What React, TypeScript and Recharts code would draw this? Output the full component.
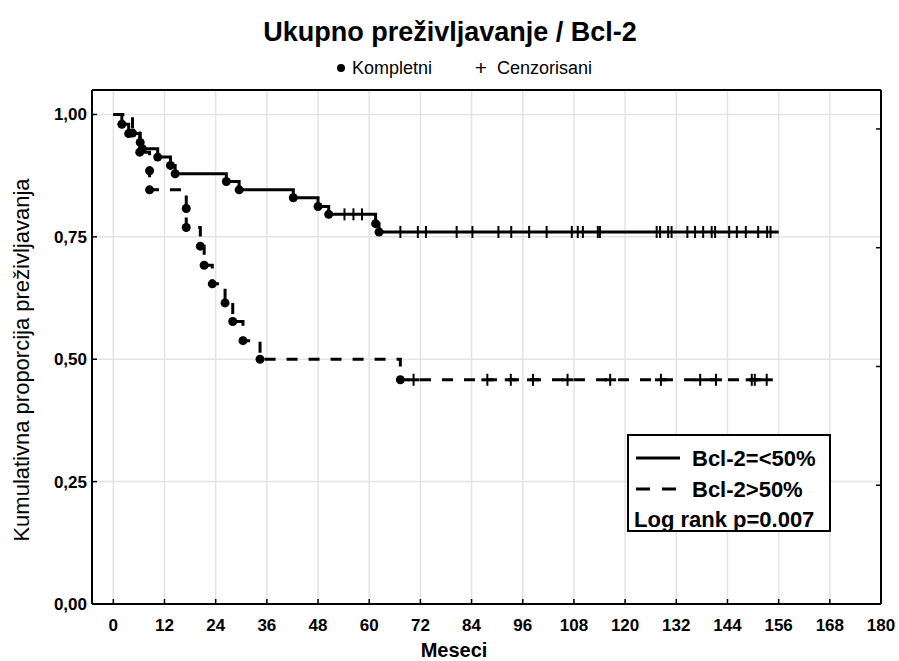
import React from 'react';
import { ComposedChart, Line, XAxis, YAxis, CartesianGrid } from 'recharts';

// ---- data ----
const xTicks = [0, 12, 24, 36, 48, 60, 72, 84, 96, 108, 120, 132, 144, 156, 168, 180];
const topTicks = [0, 20, 40, 60, 80, 100, 120, 140, 160];
const yTicks = [0, 0.25, 0.5, 0.75, 1];
const yTickLabels = ['0,00', '0,25', '0,50', '0,75', '1,00'];

// Bcl-2=<50% (solid)
const lowEventTimes = [2.0, 3.6, 6.3, 6.8, 10.4, 13.4, 14.5, 26.5, 29.5, 42.2, 48.0, 50.5, 61.5, 62.3];
const lowEventSurv = [0.980, 0.961, 0.943, 0.930, 0.913, 0.896, 0.879, 0.863, 0.846, 0.830, 0.812, 0.796, 0.777, 0.760];
const lowCensorTimes = [54.2, 56.3, 58.3, 67.3, 71.4, 73.3, 80.5, 84.2, 90.3, 93.3, 97.5, 101.6, 107.5, 108.9, 110.1, 113.6, 114.1, 127.4, 128.2, 130.1, 130.9, 134.6, 136.4, 138.3, 140.3, 141.1, 144.4, 146.2, 148.3, 151.2, 153.3, 154.1];
const lowEndTime = 156;

// Bcl-2>50% (dashed)
const highEventTimes = [4.5, 6.2, 8.5, 8.5, 17.1, 17.1, 20.4, 21.3, 23.2, 26.2, 28.0, 30.4, 34.4, 67.3];
const highEventSurv = [0.962, 0.923, 0.885, 0.846, 0.808, 0.769, 0.731, 0.692, 0.654, 0.615, 0.577, 0.538, 0.500, 0.458];
const highCensorTimes = [70.4, 87.7, 93.2, 98.4, 106.5, 116.5, 128.4, 137.6, 141.3, 149.7, 150.4, 153.2];
const highEndTime = 154.5;

type Pt = { t: number; s: number; kind: string };

function buildSeries(evT: number[], evS: number[], cT: number[], end: number): Pt[] {
  const pts: Pt[] = [];
  evT.forEach((t, i) => pts.push({ t, s: evS[i], kind: 'event' }));
  cT.forEach((t) => pts.push({ t, s: NaN, kind: 'censor' }));
  pts.sort((a, b) => a.t - b.t);
  let level = 1;
  for (const p of pts) {
    if (p.kind === 'censor') p.s = level;
    else level = p.s;
  }
  return [{ t: 0, s: 1, kind: 'start' }, ...pts, { t: end, s: level, kind: 'end' }];
}

const lowData = buildSeries(lowEventTimes, lowEventSurv, lowCensorTimes, lowEndTime);
const highData = buildSeries(highEventTimes, highEventSurv, highCensorTimes, highEndTime);

const FONT = '"Liberation Sans", Arial, sans-serif';

const makeDot = (dashed: boolean) => (props: any) => {
  const { cx, cy, payload, index } = props;
  if (cx == null || cy == null) return <g key={`n${index}`} />;
  if (payload.kind === 'event') {
    return <circle key={`e${index}`} cx={cx} cy={cy} r={4.5} fill="#000" stroke="none" />;
  }
  if (payload.kind === 'censor') {
    return (
      <g key={`c${index}`}>
        <line x1={cx} x2={cx} y1={cy - 6} y2={cy + 6} stroke="#000" strokeWidth={2} />
        {dashed && <line x1={cx - 6} x2={cx + 6} y1={cy} y2={cy} stroke="#000" strokeWidth={3} />}
      </g>
    );
  }
  return <g key={`o${index}`} />;
};

const BottomTick = (p: any) => (
  <g>
    <line x1={p.x} x2={p.x} y1={p.y} y2={p.y - 5} stroke="#000" strokeWidth={1.5} />
    <text x={p.x} y={p.y + 27} textAnchor="middle" fontFamily={FONT} fontWeight="bold" fontSize={17} fill="#000">
      {p.payload.value}
    </text>
  </g>
);

const LeftTick = (p: any) => {
  const idx = yTicks.indexOf(p.payload.value);
  return (
    <g>
      <line x1={p.x} x2={p.x + 5} y1={p.y} y2={p.y} stroke="#000" strokeWidth={1.5} />
      <text x={p.x - 5} y={p.y + 6} textAnchor="end" fontFamily={FONT} fontWeight="bold" fontSize={17} fill="#000">
        {yTickLabels[idx]}
      </text>
    </g>
  );
};

const TopTick = (p: any) => (
  <line x1={p.x} x2={p.x} y1={p.y} y2={p.y + 5} stroke="#000" strokeWidth={1.5} />
);

const RightTick = (p: any) => (
  <line x1={p.x} x2={p.x - 5} y1={p.y} y2={p.y} stroke="#000" strokeWidth={1.5} />
);

export default function App() {
  return (
    <div style={{ position: 'absolute', left: 0, top: 0, width: 899, height: 661, background: '#fff' }}>
      <ComposedChart width={899} height={661} margin={{ top: 80, right: 8, bottom: 27, left: 0 }}>
        <CartesianGrid stroke="#e3e3e3" strokeWidth={1.5} />
        <XAxis
          xAxisId={0}
          type="number"
          dataKey="t"
          domain={[-5, 180]}
          allowDataOverflow
          ticks={xTicks}
          interval={0}
          height={30}
          tickSize={0}
          tickMargin={0}
          tickLine={false}
          axisLine={{ stroke: '#000', strokeWidth: 2 }}
          tick={<BottomTick />}
        />
        <XAxis
          xAxisId="top"
          orientation="top"
          type="number"
          domain={[-5, 180]}
          allowDataOverflow
          ticks={topTicks}
          interval={0}
          height={10}
          tickSize={0}
          tickMargin={0}
          tickLine={false}
          axisLine={{ stroke: '#000', strokeWidth: 2 }}
          tick={<TopTick />}
        />
        <YAxis
          yAxisId={0}
          type="number"
          domain={[0, 1.05]}
          allowDataOverflow
          ticks={yTicks}
          interval={0}
          width={92}
          tickSize={0}
          tickMargin={0}
          tickLine={false}
          axisLine={{ stroke: '#000', strokeWidth: 2 }}
          tick={<LeftTick />}
        />
        <YAxis
          yAxisId="right"
          orientation="right"
          type="number"
          domain={[0, 1.082]}
          allowDataOverflow
          ticks={yTicks}
          interval={0}
          width={10}
          tickSize={0}
          tickMargin={0}
          tickLine={false}
          axisLine={{ stroke: '#000', strokeWidth: 2 }}
          tick={<RightTick />}
        />
        <Line
          data={lowData}
          dataKey="s"
          type="stepAfter"
          stroke="#000"
          strokeWidth={3}
          dot={makeDot(false)}
          activeDot={false}
          isAnimationActive={false}
        />
        <Line
          data={highData}
          dataKey="s"
          type="stepAfter"
          stroke="#000"
          strokeWidth={3}
          strokeDasharray="11 11"
          dot={makeDot(true)}
          activeDot={false}
          isAnimationActive={false}
        />
      </ComposedChart>
      <svg width={899} height={661} style={{ position: 'absolute', left: 0, top: 0, pointerEvents: 'none' }}>
        <text x={450} y={41} textAnchor="middle" fontFamily={FONT} fontWeight="bold" fontSize={27} fill="#000">
          Ukupno preživljavanje / Bcl-2
        </text>
        <circle cx={341} cy={68} r={4} fill="#000" />
        <text x={352} y={74} fontFamily={FONT} fontSize={18} fill="#000">Kompletni</text>
        <text x={481} y={75} textAnchor="middle" fontFamily={FONT} fontSize={21} fill="#000">+</text>
        <text x={497} y={74} fontFamily={FONT} fontSize={18} fill="#000">Cenzorisani</text>
        <text
          x={0}
          y={0}
          transform="translate(29,360) rotate(-90)"
          textAnchor="middle"
          fontFamily={FONT}
          fontSize={22}
          fill="#000"
        >
          Kumulativna proporcija preživljavanja
        </text>
        <text x={454} y={657} textAnchor="middle" fontFamily={FONT} fontWeight="bold" fontSize={20} fill="#000">
          Meseci
        </text>
        <rect x={628} y={435} width={202} height={96} fill="#fff" stroke="#000" strokeWidth={2} />
        <line x1={636} x2={680} y1={458} y2={458} stroke="#000" strokeWidth={3} />
        <text x={692} y={466} fontFamily={FONT} fontWeight="bold" fontSize={22} fill="#000">Bcl-2=&lt;50%</text>
        <line x1={636} x2={680} y1={489} y2={489} stroke="#000" strokeWidth={3} strokeDasharray="14 12" />
        <text x={692} y={497} fontFamily={FONT} fontWeight="bold" fontSize={22} fill="#000">Bcl-2&gt;50%</text>
        <text x={634} y={527} fontFamily={FONT} fontWeight="bold" fontSize={22} fill="#000">Log rank p=0.007</text>
      </svg>
    </div>
  );
}
